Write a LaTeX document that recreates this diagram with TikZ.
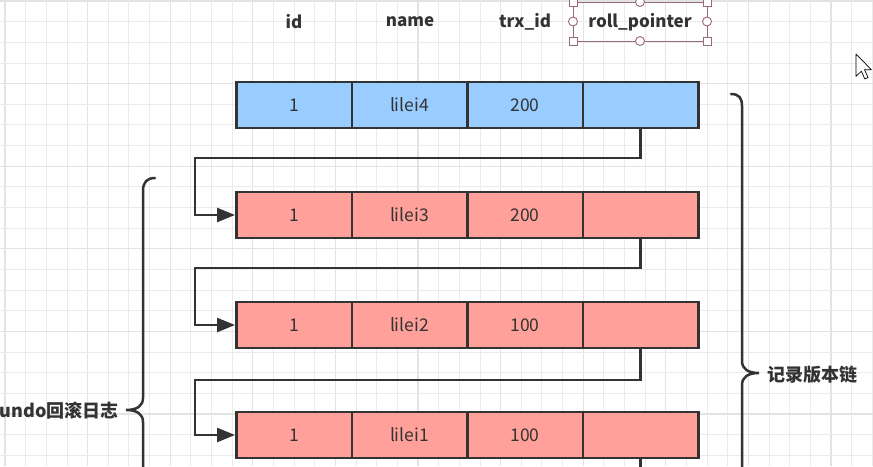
\documentclass[tikz,border=0pt]{standalone}
\usepackage{fontspec}
\setmainfont{Noto Sans CJK SC}
\usetikzlibrary{arrows.meta}
\definecolor{ink}{HTML}{333333}
\definecolor{txt}{HTML}{333333}
\definecolor{bluefill}{HTML}{99CCFF}
\definecolor{redfill}{HTML}{FFA19A}
\definecolor{gridminor}{HTML}{EBEBEB}
\definecolor{gridmajor}{HTML}{E3E3E3}
\definecolor{selc}{HTML}{9A6A7A}
\tikzset{
  cell/.style={draw=ink, line width=2.5pt, minimum width=115.5pt, minimum height=46pt,
    inner sep=0pt, font=\fontsize{17.5}{20}\selectfont, text=txt},
  bluecell/.style={cell, fill=bluefill},
  redcell/.style={cell, fill=redfill},
  head/.style={font=\bfseries\fontsize{17}{20}\selectfont, text=ink, inner sep=0pt},
  conn/.style={draw=ink, line width=2.5pt},
  arr/.style={conn, -{Triangle[length=18pt,width=14pt]}},
  brace/.style={draw=ink, line width=2.5pt, line cap=round},
  lab/.style={font=\bfseries\fontsize{18}{21}\selectfont, text=ink, inner sep=0pt},
  handlesq/.style={draw=selc, fill=white, line width=0.9pt, minimum size=8pt, inner sep=0pt, shape=rectangle},
  handleci/.style={draw=selc, fill=white, line width=0.9pt, minimum size=9pt, inner sep=0pt, shape=circle},
}
\begin{document}
\begin{tikzpicture}[x=1pt,y=-1pt]
\useasboundingbox (0,0) rectangle (873,466);
\fill[white] (0,0) rectangle (873,466);
% grid
\foreach \i in {0,...,42} {
  \pgfmathsetmacro{\gx}{5+20.65*\i}
  \pgfmathtruncatemacro{\m}{mod(\i,4)}
  \ifnum\m=0
    \draw[gridmajor, line width=1.1pt] (\gx,0) -- (\gx,466);
  \else
    \draw[gridminor, line width=0.9pt] (\gx,0) -- (\gx,466);
  \fi
}
\foreach \j in {0,...,22} {
  \pgfmathsetmacro{\gy}{1+20.65*\j}
  \pgfmathtruncatemacro{\m}{mod(\j,4)}
  \ifnum\m=0
    \draw[gridmajor, line width=1.1pt] (0,\gy) -- (873,\gy);
  \else
    \draw[gridminor, line width=0.9pt] (0,\gy) -- (873,\gy);
  \fi
}
% headers
\node[head] (hid) at (294,22) {id};
\node[head] (hname) at (410,22) {name};
\node[head] (htrx) at (525,22) {trx\_id};
\node[head] (hroll) at (640,22) {roll\_pointer};
% selection box
\draw[selc, line width=0.9pt] (573,2) rectangle (707,41);
\node[handlesq] (s1) at (573,2) {};
\node[handlesq] (s2) at (707,2) {};
\node[handlesq] (s3) at (573,41) {};
\node[handlesq] (s4) at (707,41) {};
\node[handleci] (c1) at (640,2) {};
\node[handleci] (c2) at (640,41) {};
\node[handleci] (c3) at (573,21.5) {};
\node[handleci] (c4) at (707,21.5) {};
% rows
\node[bluecell] (r1c1) at (294,105) {1};
\node[bluecell] (r1c2) at (409.5,105) {lilei4};
\node[bluecell] (r1c3) at (525,105) {200};
\node[bluecell] (r1c4) at (640.5,105) {};
\node[redcell] (r2c1) at (294,215) {1};
\node[redcell] (r2c2) at (409.5,215) {lilei3};
\node[redcell] (r2c3) at (525,215) {200};
\node[redcell] (r2c4) at (640.5,215) {};
\node[redcell] (r3c1) at (294,325) {1};
\node[redcell] (r3c2) at (409.5,325) {lilei2};
\node[redcell] (r3c3) at (525,325) {100};
\node[redcell] (r3c4) at (640.5,325) {};
\node[redcell] (r4c1) at (294,435) {1};
\node[redcell] (r4c2) at (409.5,435) {lilei1};
\node[redcell] (r4c3) at (525,435) {100};
\node[redcell] (r4c4) at (640.5,435) {};
% connectors
\coordinate (k1) at (195,158);
\coordinate (k2) at (195,268);
\coordinate (k3) at (195,380);
\coordinate (k4) at (640.5,467);
\draw[arr] (r1c4.south) |- (k1) |- (r2c1.west);
\draw[arr] (r2c4.south) |- (k2) |- (r3c1.west);
\draw[arr] (r3c4.south) |- (k3) |- (r4c1.west);
\draw[conn] (r4c4.south) -- (k4);
% braces
\draw[brace] (155,178) .. controls (147,178) and (143,182) .. (143,191) -- (143,398)
  .. controls (143,406) and (137,410) .. (126,410) .. controls (137,410) and (143,414) .. (143,422) -- (143,470);
\draw[brace] (731,94) .. controls (739,94) and (742,98) .. (742,106) -- (742,361)
  .. controls (742,369) and (748,373) .. (759,373) .. controls (748,373) and (742,377) .. (742,385) -- (742,470);
\node[lab, anchor=east] (undo) at (119,411) {undo回滚日志};
\node[lab, anchor=west] (chain) at (767,375) {记录版本链};
% cursor
\begin{scope}[shift={(856,54)}, scale=1.4]
\draw[black, fill=white, line width=0.7pt, line join=round] (0,0) -- (0,16) -- (3.8,12.3) -- (6.3,17.8) -- (8.6,16.8) -- (6.1,11.3) -- (11,11.3) -- cycle;
\end{scope}
\end{tikzpicture}
\end{document}
